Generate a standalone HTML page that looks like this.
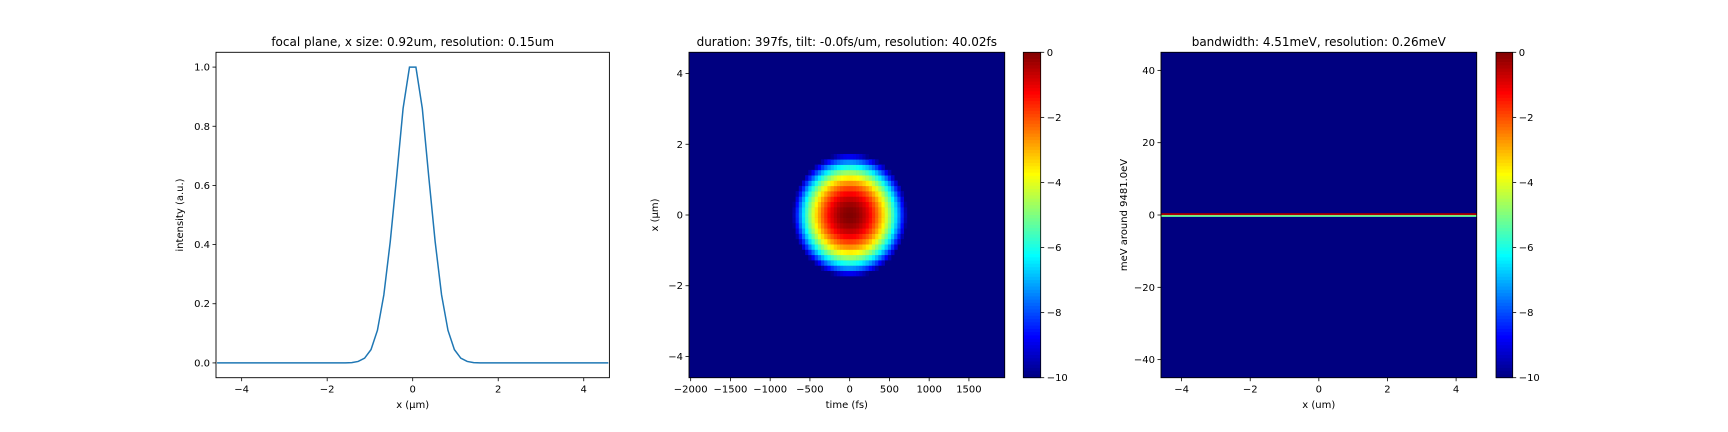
<!DOCTYPE html>
<html><head><meta charset="utf-8"><style>
body{margin:0;background:#fff}
svg{display:block;font-family:"DejaVu Sans","Liberation Sans",sans-serif;}
</style></head><body>
<svg id="fig" width="1728" height="432" viewBox="0 0 1728 432" xmlns="http://www.w3.org/2000/svg"></svg>
<script>
// ---- data: left line plot ----
const lineX = [-4.575,-4.425,-4.275,-4.125,-3.975,-3.825,-3.675,-3.525,-3.375,-3.225,-3.075,-2.925,-2.775,-2.625,-2.475,-2.325,-2.175,-2.025,-1.875,-1.725,-1.575,-1.425,-1.275,-1.125,-0.975,-0.825,-0.675,-0.525,-0.375,-0.225,-0.075,0.075,0.225,0.375,0.525,0.675,0.825,0.975,1.125,1.275,1.425,1.575,1.725,1.875,2.025,2.175,2.325,2.475,2.625,2.775,2.925,3.075,3.225,3.375,3.525,3.675,3.825,3.975,4.125,4.275,4.425,4.575];
const lineY = [0,0,0,0,0,0,0,0,0,0,0,0,0,0,0,0,0,0,0,0,0,0.001,0.005,0.016,0.045,0.11,0.23,0.41,0.63,0.86,1.0,1.0,0.86,0.63,0.41,0.23,0.11,0.045,0.016,0.005,0.001,0,0,0,0,0,0,0,0,0,0,0,0,0,0,0,0,0,0,0,0,0];
const leftXTicks = [-4,-2,0,2,4];
const leftYTicks = [0.0,0.2,0.4,0.6,0.8,1.0];
// ---- data: middle heatmap (log profiles, separable) ----
const midXCells = [-1.8,-1.65,-1.5,-1.35,-1.2,-1.05,-0.9,-0.75,-0.6,-0.45,-0.3,-0.15,0,0.15,0.3,0.45,0.6,0.75,0.9,1.05,1.2,1.35,1.5,1.65,1.8];
const midLogX = [-10.6,-8.9,-7.36,-5.96,-4.71,-3.6,-2.65,-1.84,-1.18,-0.66,-0.29,-0.07,0,-0.07,-0.29,-0.66,-1.18,-1.84,-2.65,-3.6,-4.71,-5.96,-7.36,-8.9,-10.6];
const midTCells = [-740,-700,-660,-620,-580,-540,-500,-460,-420,-380,-340,-300,-260,-220,-180,-140,-100,-60,-20,20,60,100,140,180,220,260,300,340,380,420,460,500,540,580,620,660,700,740,780];
const midLogT = [-10.6,-9.5,-8.4,-7.4,-6.5,-5.6,-4.8,-4.1,-3.4,-2.8,-2.23,-1.74,-1.3,-0.93,-0.63,-0.38,-0.19,-0.07,-0.01,-0.01,-0.07,-0.19,-0.38,-0.63,-0.93,-1.3,-1.74,-2.23,-2.8,-3.4,-4.1,-4.8,-5.6,-6.5,-7.4,-8.4,-9.5,-10.6,-11.7];
const midXTicks = [-2000,-1500,-1000,-500,0,500,1000,1500];
const midYTicks = [-4,-2,0,2,4];
// ---- data: right heatmap (energy rows) ----
const eRows = [0.39,0.13,-0.13,-0.39];
const eVals = [-0.3,-0.6,-5.0,-5.3];
const rightXTicks = [-4,-2,0,2,4];
const rightYTicks = [-40,-20,0,20,40];
const cbarTicks = [0,-2,-4,-6,-8,-10];

const NS="http://www.w3.org/2000/svg";
const svg=document.getElementById('fig');
function mk(tag,attrs,parent){const e=document.createElementNS(NS,tag);for(const k in attrs)e.setAttribute(k,attrs[k]);(parent||svg).appendChild(e);return e;}
function txt(s,x,y,attrs,parent){const e=mk('text',Object.assign({x:x,y:y,'font-size':10,fill:'#000'},attrs),parent);e.textContent=s;return e;}
function lin(d0,d1,p0,p1){return v=>p0+(v-d0)/(d1-d0)*(p1-p0);}
function jet(v){ // v in [0,1]
  const c=x=>Math.max(0,Math.min(1,x));
  const r=c(1.5-Math.abs(4*v-3)), g=c(1.5-Math.abs(4*v-2)), b=c(1.5-Math.abs(4*v-1));
  return `rgb(${Math.round(r*255)},${Math.round(g*255)},${Math.round(b*255)})`;}
function valColor(v){return jet((Math.max(-10,Math.min(0,v))+10)/10);}
const NEG=s=>String(s).replace('-','\u2212');
const TOP=52.3,BOT=377.7;

function axesFrame(g,L,R,xs,ys,xt,yt,xfmt,yfmt){
  mk('rect',{x:L,y:TOP,width:R-L,height:BOT-TOP,fill:'none',stroke:'#000','stroke-width':0.9},g);
  xt.forEach(t=>{const x=xs(t);mk('line',{x1:x,y1:BOT,x2:x,y2:BOT+3.5,stroke:'#000','stroke-width':0.8},g);
    txt(NEG(xfmt(t)),x,BOT+15,{'text-anchor':'middle'},g);});
  yt.forEach(t=>{const y=ys(t);mk('line',{x1:L-3.5,y1:y,x2:L,y2:y,stroke:'#000','stroke-width':0.8},g);
    txt(NEG(yfmt(t)),L-6,y+3.5,{'text-anchor':'end'},g);});
}
function colorbar(g,L,R){
  const cs=lin(0,-10,TOP,BOT);
  for(let i=0;i<100;i++){const v0=-i/10,v1=-(i+1)/10;
    mk('rect',{x:L,y:cs(v0),width:R-L,height:cs(v1)-cs(v0)+0.4,fill:valColor((v0+v1)/2)},g);}
  mk('rect',{x:L,y:TOP,width:R-L,height:BOT-TOP,fill:'none',stroke:'#000','stroke-width':0.8},g);
  cbarTicks.forEach(t=>{const y=cs(t);mk('line',{x1:R,y1:y,x2:R+3.5,y2:y,stroke:'#000','stroke-width':0.8},g);
    txt(NEG(t),R+6,y+3.5,{},g);});
}

// ----- left plot -----
const gL=mk('g',{});


const Lx=lin(-4.6,4.6,216,609.4), Ly=lin(-0.05,1.05,BOT,TOP);
const pts=lineX.map((x,i)=>Lx(x).toFixed(2)+','+Ly(lineY[i]).toFixed(2)).join(' ');
const cp=mk('clipPath',{id:'clipL'},gL);mk('rect',{x:216,y:TOP,width:393.4,height:BOT-TOP},cp);
const pl=mk('polyline',{points:pts,fill:'none',stroke:'#1f77b4','stroke-width':1.5,'clip-path':'url(#clipL)'},gL);


axesFrame(gL,216,609.4,Lx,Ly,leftXTicks,leftYTicks,t=>t,t=>t.toFixed(1));
txt('focal plane, x size: 0.92um, resolution: 0.15um',412.7,46,{'text-anchor':'middle','font-size':12},gL);
txt('x (\u03bcm)',412.7,408,{'text-anchor':'middle'},gL);
txt('intensity (a.u.)',0,0,{'text-anchor':'middle',transform:'translate(183,215) rotate(-90)'},gL);

// ----- middle heatmap -----
const gM=mk('g',{});


const Mx=lin(-2021,1950,689,1004.7), My=lin(-4.6,4.6,BOT,TOP);
mk('rect',{x:689,y:TOP,width:315.7,height:BOT-TOP,fill:valColor(-10)},gM);
const dt=40, dx=0.15;
midXCells.forEach((xv,i)=>{midTCells.forEach((tv,j)=>{
  const v=midLogX[i]+midLogT[j]; if(v<=-10) return;
  const r=mk('rect',{x:Mx(tv-dt/2),y:My(xv+dx/2),width:Mx(tv+dt/2)-Mx(tv-dt/2)+0.3,height:My(xv-dx/2)-My(xv+dx/2)+0.3,fill:valColor(v)},gM);
  
  
});});
axesFrame(gM,689,1004.7,Mx,My,midXTicks,midYTicks,t=>t,t=>t);
txt('duration: 397fs, tilt: -0.0fs/um, resolution: 40.02fs',846.8,46,{'text-anchor':'middle','font-size':12},gM);
txt('time (fs)',846.8,408,{'text-anchor':'middle'},gM);
txt('x (\u03bcm)',0,0,{'text-anchor':'middle',transform:'translate(658,215) rotate(-90)'},gM);
const gMC=mk('g',{});


colorbar(gMC,1023.3,1040.7);

// ----- right heatmap -----
const gR=mk('g',{});


const Rx=lin(-4.6,4.6,1161,1476.7), Ry=lin(-45,45,BOT,TOP);
mk('rect',{x:1161,y:TOP,width:315.7,height:BOT-TOP,fill:valColor(-10)},gR);
const de=0.26;
eRows.forEach((e,i)=>{
  const r=mk('rect',{x:1161,y:Ry(e+de/2),width:315.7,height:Ry(e-de/2)-Ry(e+de/2),fill:valColor(eVals[i])},gR);
  
  
});
axesFrame(gR,1161,1476.7,Rx,Ry,rightXTicks,rightYTicks,t=>t,t=>t);
txt('bandwidth: 4.51meV, resolution: 0.26meV',1318.8,46,{'text-anchor':'middle','font-size':12},gR);
txt('x (um)',1318.8,408,{'text-anchor':'middle'},gR);
txt('meV around 9481.0eV',0,0,{'text-anchor':'middle',transform:'translate(1127,215) rotate(-90)'},gR);
const gRC=mk('g',{});


colorbar(gRC,1496,1512.7);
</script>
</body></html>
